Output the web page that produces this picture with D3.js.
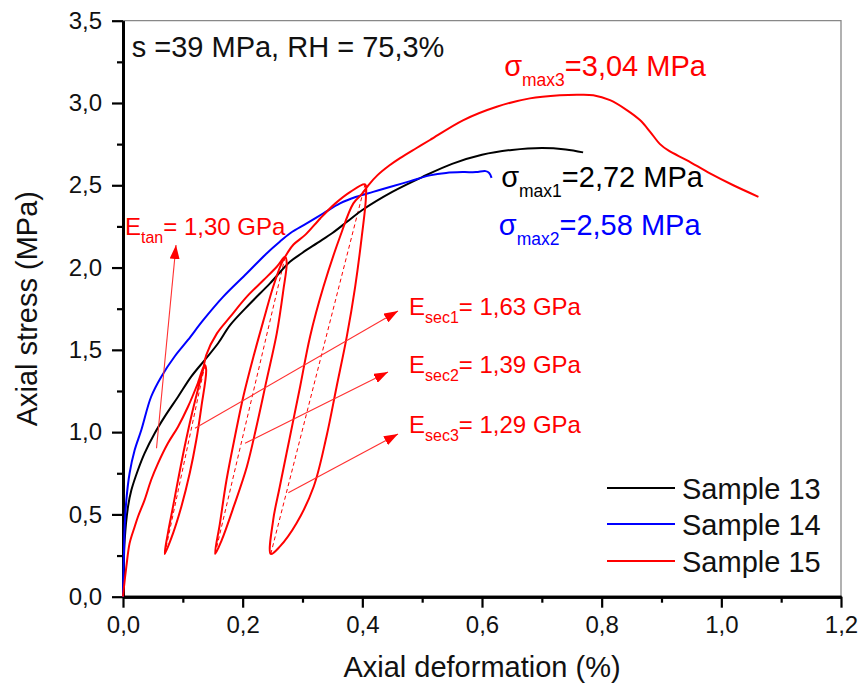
<!DOCTYPE html>
<html><head><meta charset="utf-8">
<script src="https://cdn.jsdelivr.net/npm/d3@7"></script>
<style>
body{margin:0;background:#fff}
svg{display:block;font-family:"Liberation Sans",Arial,sans-serif}
</style>
</head><body>
<svg id="chart" width="861" height="685"></svg>
<script>
// ---------- DATA ----------
const sample13 = [[0,0],[0.001,0.15],[0.0028,0.344],[0.0084,0.547],[0.014,0.648],[0.025,0.77],[0.036,0.871],[0.053,0.993],[0.0697,1.094],[0.092,1.215],[0.114,1.337],[0.1365,1.438],[0.159,1.54],[0.179,1.65],[0.212,1.78],[0.2457,1.904],[0.279,2.035],[0.3,2.09],[0.325,2.15],[0.35,2.21],[0.375,2.28],[0.4,2.35],[0.45,2.46],[0.5,2.55],[0.55,2.63],[0.6,2.685],[0.65,2.715],[0.7,2.727],[0.74,2.718],[0.769,2.70]];
const sample14 = [[0,0],[0.0005,0.1],[0.0015,0.25],[0.0028,0.425],[0.0056,0.587],[0.011,0.75],[0.0195,0.891],[0.0306,1.013],[0.047,1.215],[0.064,1.337],[0.086,1.458],[0.1086,1.56],[0.134,1.68],[0.1676,1.823],[0.207,1.965],[0.240,2.086],[0.262,2.157],[0.28,2.21],[0.307,2.268],[0.335,2.33],[0.3627,2.39],[0.39,2.43],[0.418,2.46],[0.446,2.49],[0.48,2.525],[0.513,2.56],[0.54,2.575],[0.568,2.58],[0.59,2.58],[0.606,2.586],[0.612,2.575],[0.616,2.545]];
const sample15 = [
  [0,0],[0.0017,0.061],[0.0056,0.182],[0.011,0.324],[0.0195,0.425],[0.025,0.486],[0.036,0.587],[0.047,0.709],[0.0585,0.81],[0.075,0.932],[0.092,1.033],[0.1086,1.154],[0.125,1.297],[0.1365,1.41],
  [0.139,1.38],[0.131,1.154],[0.1225,0.952],[0.1115,0.75],[0.0975,0.547],[0.0836,0.385],[0.0697,0.26],
  [0.075,0.385],[0.0836,0.547],[0.092,0.709],[0.103,0.911],[0.114,1.094],[0.125,1.256],[0.1337,1.377],[0.1393,1.47],
  [0.157,1.60],[0.179,1.70],[0.207,1.823],[0.235,1.924],[0.257,2.005],[0.271,2.066],
  [0.2736,2.03],[0.268,1.863],[0.257,1.60],[0.240,1.316],[0.223,1.033],[0.207,0.79],[0.185,0.547],[0.165,0.344],[0.154,0.26],
  [0.162,0.446],[0.173,0.709],[0.187,0.972],[0.201,1.215],[0.218,1.458],[0.235,1.681],[0.251,1.883],[0.265,2.025],[0.275,2.09],
  [0.285,2.14],[0.305,2.2],[0.33,2.3],[0.355,2.39],[0.38,2.46],[0.4045,2.505],
  [0.406,2.43],[0.399,2.187],[0.388,1.883],[0.374,1.58],[0.357,1.276],[0.340,0.972],[0.3186,0.668],[0.290,0.446],[0.262,0.304],[0.247,0.26],
  [0.251,0.466],[0.262,0.668],[0.279,0.972],[0.296,1.276],[0.3126,1.58],[0.335,1.883],[0.3627,2.187],[0.385,2.39],[0.40,2.45],
  [0.41,2.5],[0.425,2.56],[0.445,2.62],[0.463,2.665],[0.49,2.725],[0.513,2.775],[0.569,2.896],[0.6246,2.977],[0.680,3.028],[0.73,3.047],[0.76,3.05],[0.786,3.047],[0.814,3.017],[0.842,2.957],[0.864,2.896],[0.881,2.825],[0.8975,2.75],[0.912,2.71],[0.942,2.653],[0.981,2.572],[1.020,2.50],[1.062,2.43]
];
const secantLines = [
  [[0.0697,0.26],[0.137,1.41]],
  [[0.154,0.26],[0.271,2.066]],
  [[0.247,0.26],[0.4045,2.505]]
];
const arrowLines = [
  [[0.056,0.902],[0.0886,2.137]],
  [[0.1203,1.023],[0.4596,1.736]],
  [[0.2039,0.932],[0.4429,1.365]],
  [[0.2763,0.632],[0.4596,0.988]]
];
const xTickValues = [0,0.2,0.4,0.6,0.8,1.0,1.2];
const xMinorTicks = [0.1,0.3,0.5,0.7,0.9,1.1];
const yTickValues = [0,0.5,1.0,1.5,2.0,2.5,3.0,3.5];
const yMinorTicks = [0.25,0.75,1.25,1.75,2.25,2.75,3.25];
const seriesNames = ["Sample 13","Sample 14","Sample 15"];
const seriesColors = ["#000000","#0000ff","#ff0000"];
const xTitle = "Axial deformation (%)";
const yTitle = "Axial stress (MPa)";
const conditionText = "s =39 MPa, RH = 75,3%";
const labelParts = [
  {main:"σ", sub:"max3", rest:"=3,04 MPa", color:"#ff0000", at:[0.637,3.163], big:true},
  {main:"σ", sub:"max1", rest:"=2,72 MPa", color:"#000000", at:[0.632,2.491], big:true},
  {main:"σ", sub:"max2", rest:"=2,58 MPa", color:"#0000ff", at:[0.628,2.197], big:true},
  {main:"E", sub:"tan", rest:"= 1,30 GPa", color:"#ff0000", at:[0.0033,2.197], big:false},
  {main:"E", sub:"sec1", rest:"= 1,63 GPa", color:"#ff0000", at:[0.478,1.711], big:false},
  {main:"E", sub:"sec2", rest:"= 1,39 GPa", color:"#ff0000", at:[0.478,1.357], big:false},
  {main:"E", sub:"sec3", rest:"= 1,29 GPa", color:"#ff0000", at:[0.478,0.993], big:false}
];

// ---------- LAYOUT ----------
const L = 123, R = 841, T = 20.7, B = 596.7;
const svg = d3.select("#chart");
const x = d3.scaleLinear().domain([0,1.2]).range([L,R]);
const y = d3.scaleLinear().domain([0,3.5]).range([B,T]);
const fmt = v => d3.format(".1f")(v).replace(".", ",");

// frame (top/right thin gray)
svg.append("path")
  .attr("d", `M${L},${T}H${R}V${B}`)
  .attr("fill","none").attr("stroke","#888").attr("stroke-width",1.3);

// axes
const gx = svg.append("g").attr("transform",`translate(0,${B})`)
  .call(d3.axisBottom(x).tickValues(xTickValues).tickFormat(fmt).tickSize(11).tickPadding(8).tickSizeOuter(0));
const gxm = svg.append("g").attr("transform",`translate(0,${B})`)
  .call(d3.axisBottom(x).tickValues(xMinorTicks).tickFormat("").tickSize(6).tickSizeOuter(0));
const gy = svg.append("g").attr("transform",`translate(${L},0)`)
  .call(d3.axisLeft(y).tickValues(yTickValues).tickFormat(fmt).tickSize(11).tickPadding(10).tickSizeOuter(0));
const gym = svg.append("g").attr("transform",`translate(${L},0)`)
  .call(d3.axisLeft(y).tickValues(yMinorTicks).tickFormat("").tickSize(6).tickSizeOuter(0));
[gx,gxm,gy,gym].forEach(g=>{
  g.select(".domain").attr("stroke","#000").attr("stroke-width",3);
  g.selectAll(".tick line").attr("stroke","#000").attr("stroke-width",2.2);
  g.selectAll(".tick text").attr("font-size",24).attr("fill","#111")
    .attr("font-family",'"Liberation Sans",Arial,sans-serif');
});

// axis titles
svg.append("text").attr("x",(L+R)/2).attr("y",677).attr("text-anchor","middle")
  .attr("font-size",29).attr("fill","#111").text(xTitle);
svg.append("text").attr("transform",`translate(37,${(T+B)/2}) rotate(-90)`).attr("text-anchor","middle")
  .attr("font-size",29).attr("fill","#111").text(yTitle);

// secant dashed lines
const line = d3.line().x(d=>x(d[0])).y(d=>y(d[1]));
svg.selectAll(".sec").data(secantLines).join("path")
  .attr("d", line).attr("fill","none").attr("stroke","#ff0000")
  .attr("stroke-width",1).attr("stroke-dasharray","4,3");

// data curves
const curve = d3.line().x(d=>x(d[0])).y(d=>y(d[1])).curve(d3.curveCatmullRom.alpha(0.5));
const seriesData = [sample13, sample14, sample15];
svg.selectAll(".series").data(seriesData).join("path")
  .attr("d", curve).attr("fill","none")
  .attr("stroke",(d,i)=>seriesColors[i]).attr("stroke-width",2)
  .attr("stroke-linejoin","round");

// arrows
const defs = svg.append("defs");
defs.append("marker").attr("id","ah").attr("viewBox","0 0 14 10")
  .attr("refX",14).attr("refY",5).attr("markerWidth",14).attr("markerHeight",10)
  .attr("markerUnits","userSpaceOnUse").attr("orient","auto")
  .append("path").attr("d","M0,0L14,5L0,10Z").attr("fill","#ff0000");
svg.selectAll(".arr").data(arrowLines).join("path")
  .attr("d", line).attr("fill","none").attr("stroke","#ff3030")
  .attr("stroke-width",1.1).attr("marker-end","url(#ah)");

// condition text
svg.append("text").attr("x",x(0.0145)).attr("y",y(3.277))
  .attr("font-size",29).attr("fill","#111").text(conditionText);

// labels with subscripts
labelParts.forEach(p=>{
  const fs = p.big ? 29 : 24, ss = p.big ? 17.5 : 16, dd = p.big ? 10 : 7.5;
  const t = svg.append("text").attr("x",x(p.at[0])).attr("y",y(p.at[1]))
    .attr("font-size",fs).attr("fill",p.color);
  t.append("tspan").text(p.main);
  t.append("tspan").attr("font-size",ss).attr("dy",dd).text(p.sub);
  t.append("tspan").attr("dy",-dd).text(p.rest);
});

// legend
const legY = [488,524,561];
seriesNames.forEach((n,i)=>{
  svg.append("line").attr("x1",607).attr("x2",675).attr("y1",legY[i]).attr("y2",legY[i])
    .attr("stroke",seriesColors[i]).attr("stroke-width",2);
  svg.append("text").attr("x",682).attr("y",legY[i]+10.5).attr("font-size",29)
    .attr("fill","#111").text(n);
});
</script>
</body></html>
